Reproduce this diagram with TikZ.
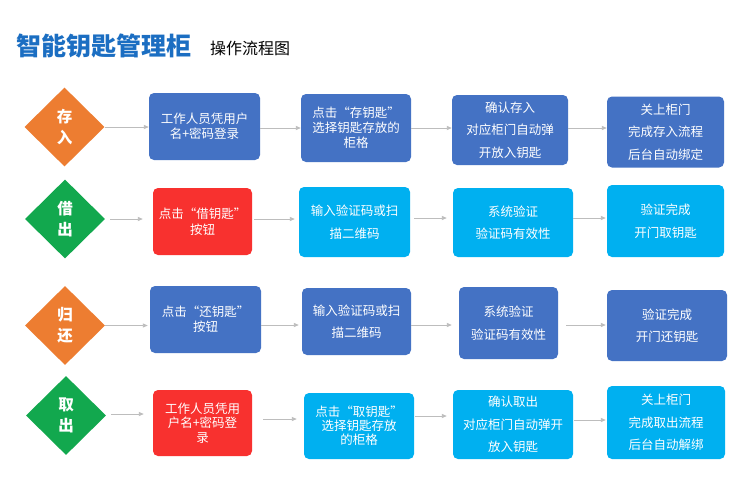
\documentclass[tikz,border=0pt]{standalone}
\usepackage{fontspec}
\setmainfont{Noto Sans CJK SC}
\usetikzlibrary{shapes.geometric,arrows.meta}
\definecolor{kblue}{HTML}{4472C4}
\definecolor{kcyan}{HTML}{00B0F0}
\definecolor{kred}{HTML}{F8312F}
\definecolor{korange}{HTML}{ED7D31}
\definecolor{kgreen}{HTML}{12A84E}
\definecolor{ktitle}{HTML}{1B6EC2}
\definecolor{karrow}{HTML}{BDBDBD}
\begin{document}
\begin{tikzpicture}[x=1pt,y=-1pt,
  dia/.style={diamond,aspect=1,inner sep=0pt,minimum width=80pt,minimum height=79pt,text=white,align=center,font=\fontsize{15.5}{21}\bfseries\selectfont},
  box/.style={rounded corners=5pt,inner sep=0pt,text=white,align=center,font=\fontsize{12.5}{15}\selectfont},
  wide/.style={box,font=\fontsize{12.5}{22.5}\selectfont},
  arr/.style={-{Triangle[length=5pt,width=4pt]},karrow,line width=0.9pt}]
\useasboundingbox[fill=white] (0,0) rectangle (750,488);
% title
\node[anchor=west,inner sep=0pt,text=ktitle,font=\fontsize{25}{25}\bfseries\selectfont] (title) at (16,46) {智能钥匙管理柜};
\node[anchor=west,inner sep=0pt,font=\fontsize{16}{16}\selectfont] (subtitle) at (210,48) {操作流程图};
% row 1: store
\node[dia,fill=korange] (s0) at (64.5,127) {存\\入};
\node[box,fill=kblue,minimum width=111pt,minimum height=67pt] (s1) at (204.5,126.5) {工作人员凭用户\\名+密码登录};
\node[box,fill=kblue,minimum width=110pt,minimum height=68pt] (s2) at (356,128) {点击“存钥匙”\\选择钥匙存放的\\柜格};
\node[wide,fill=kblue,minimum width=116pt,minimum height=70pt] (s3) at (510,130) {确认存入\\对应柜门自动弹\\开放入钥匙};
\node[wide,fill=kblue,minimum width=117pt,minimum height=71pt] (s4) at (665.5,132) {关上柜门\\完成存入流程\\后台自动绑定};
\draw[arr] (s0.east) -- (s0.east -| s1.west);
\draw[arr] ([yshift=-1.5pt]s1.east) -- ([yshift=-1.5pt]s1.east -| s2.west);
\draw[arr] (s2.east) -- (s2.east -| s3.west);
\draw[arr] ([yshift=2pt]s3.east) -- ([yshift=2pt]s3.east -| s4.west);
% row 2: borrow
\node[dia,fill=kgreen] (b0) at (65,219) {借\\出};
\node[box,fill=kred,minimum width=99pt,minimum height=67pt,font=\fontsize{12.5}{16}\selectfont] (b1) at (202.5,221.5) {点击“借钥匙”\\按钮};
\node[wide,fill=kcyan,minimum width=111pt,minimum height=70pt] (b2) at (354.5,222) {输入验证码或扫\\描二维码};
\node[wide,fill=kcyan,minimum width=120pt,minimum height=69pt] (b3) at (513,222.5) {系统验证\\验证码有效性};
\node[wide,fill=kcyan,minimum width=117pt,minimum height=72pt] (b4) at (665.5,221) {验证完成\\开门取钥匙};
\draw[arr,shorten <=5pt,shorten >=10pt] (b0.east) -- (b0.east -| b1.west);
\draw[arr,shorten <=2pt,shorten >=4pt] ([yshift=2.5pt]b1.east) -- ([yshift=2.5pt]b1.east -| b2.west);
\draw[arr,shorten <=4pt,shorten >=6pt] ([yshift=4pt]b2.east) -- ([yshift=4pt]b2.east -| b3.west);
\draw[arr,shorten >=1pt] ([yshift=4.5pt]b3.east) -- ([yshift=4.5pt]b3.east -| b4.west);
% row 3: return
\node[dia,fill=korange] (h0) at (65,325.5) {归\\还};
\node[box,fill=kblue,minimum width=111pt,minimum height=67pt] (h1) at (205.5,319.5) {点击“还钥匙”\\按钮};
\node[wide,fill=kblue,minimum width=109pt,minimum height=67pt] (h2) at (356.5,321.5) {输入验证码或扫\\描二维码};
\node[wide,fill=kblue,minimum width=99pt,minimum height=72pt] (h3) at (508.5,323) {系统验证\\验证码有效性};
\node[wide,fill=kblue,minimum width=120pt,minimum height=71pt] (h4) at (667,325.5) {验证完成\\开门还钥匙};
\draw[arr,shorten >=2pt] (h0.east) -- (h0.east -| h1.west);
\draw[arr,shorten >=3pt] ([yshift=-5.5pt]h1.east) -- ([yshift=-5.5pt]h1.east -| h2.west);
\draw[arr,shorten >=7pt] ([yshift=-3.5pt]h2.east) -- ([yshift=-3.5pt]h2.east -| h3.west);
\draw[arr,shorten <=8pt,shorten >=1pt] ([yshift=-2pt]h3.east) -- ([yshift=-2pt]h3.east -| h4.west);
% row 4: take out
\node[dia,fill=kgreen] (q0) at (66,415.5) {取\\出};
\node[box,fill=kred,minimum width=99pt,minimum height=66pt,font=\fontsize{12.5}{14.5}\selectfont] (q1) at (202.5,423) {工作人员凭用\\户名+密码登\\录};
\node[box,fill=kcyan,minimum width=110pt,minimum height=66pt,font=\fontsize{12.5}{14}\selectfont] (q2) at (359,426) {点击“取钥匙”\\选择钥匙存放\\的柜格};
\node[wide,fill=kcyan,minimum width=120pt,minimum height=69pt] (q3) at (513,424.5) {确认取出\\对应柜门自动弹开\\放入钥匙};
\node[wide,fill=kcyan,minimum width=118pt,minimum height=73pt] (q4) at (666,422.5) {关上柜门\\完成取出流程\\后台自动解绑};
\draw[arr,shorten <=5pt,shorten >=9pt] ([yshift=1.5pt]q0.east) -- ([yshift=1.5pt]q0.east -| q1.west);
\draw[arr,shorten <=11pt,shorten >=7pt] ([yshift=4pt]q1.east) -- ([yshift=4pt]q1.east -| q2.west);
\draw[arr,shorten <=1pt,shorten >=6pt] ([yshift=10pt]q2.east) -- ([yshift=10pt]q2.east -| q3.west);
\draw[arr,shorten <=1pt,shorten >=1pt] ([yshift=4.5pt]q3.east) -- ([yshift=4.5pt]q3.east -| q4.west);
\end{tikzpicture}
\end{document}
